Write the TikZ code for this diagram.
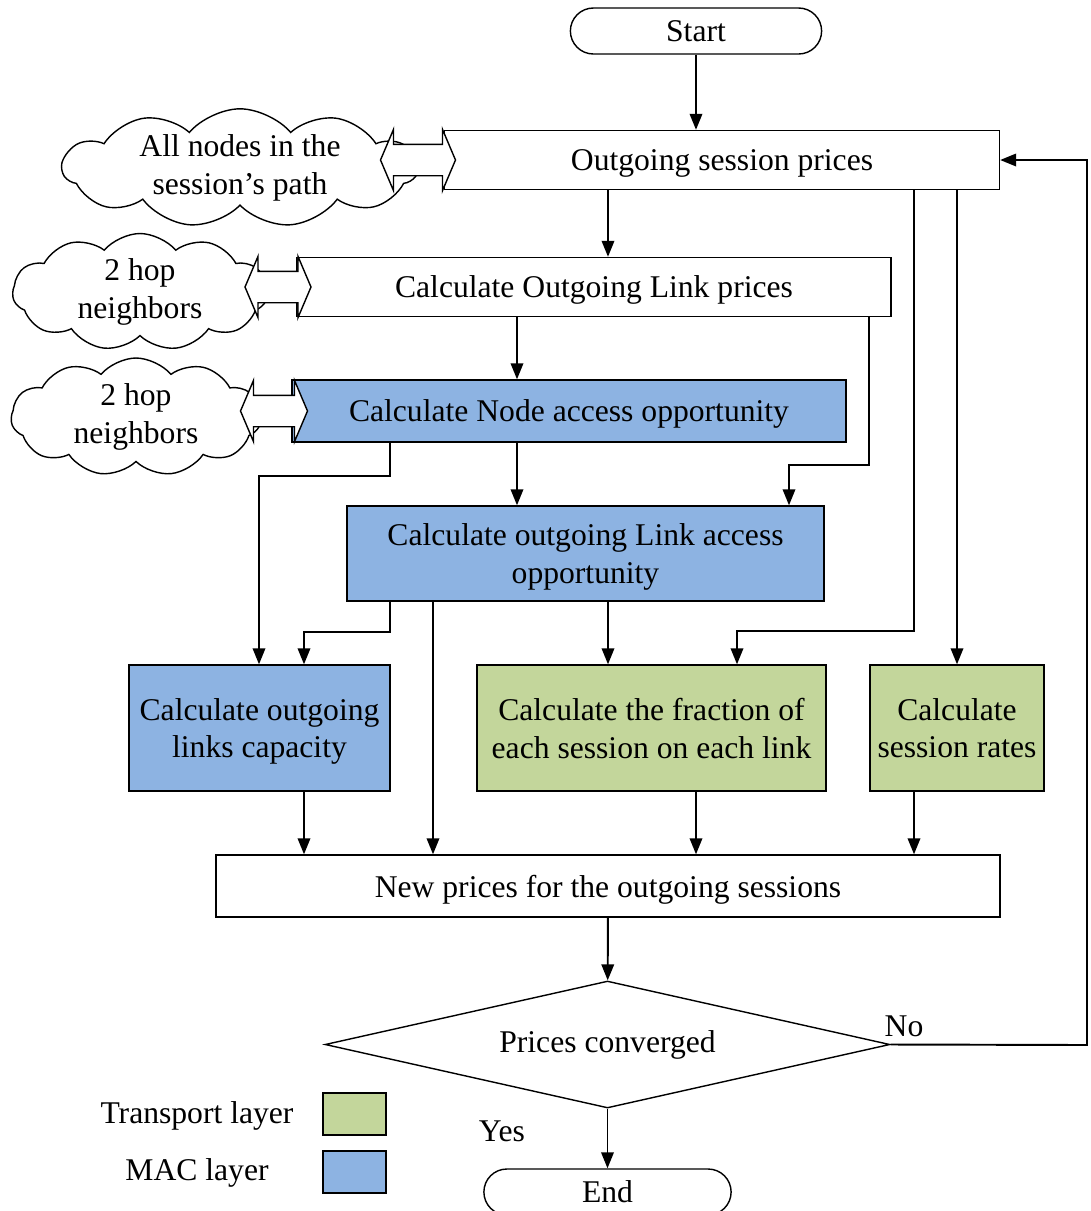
\documentclass[tikz,border=0pt]{standalone}
\usepackage{fontspec}
\setmainfont{Liberation Serif}
\definecolor{maclayer}{HTML}{8DB3E2}
\definecolor{translayer}{HTML}{C3D69B}
\usetikzlibrary{shapes.geometric,shapes.misc,shapes.symbols,shapes.arrows,arrows.meta}

\begin{document}
\begin{tikzpicture}[
  x=0.02cm,y=-0.02cm,
  font=\fontsize{18}{21.5}\selectfont,
  box/.style={draw,line width=0.8pt,align=center,inner sep=2pt,text depth=0pt},
  macbox/.style={box,fill=maclayer},
  tpbox/.style={box,fill=translayer},
  term/.style={draw,line width=0.8pt,rounded rectangle,minimum width=5.26cm,minimum height=0.92cm},
  puff/.style={draw,line width=0.8pt,cloud,cloud puffs=11,cloud puff arc=100,align=center,inner xsep=-2pt,inner ysep=-4pt},
  link/.style={draw,line width=0.8pt,fill=white,double arrow,double arrow tip angle=134,
               double arrow head extend=0.3cm,inner xsep=0pt,inner ysep=0.3cm,minimum width=0pt},
  arrow/.style={-{Triangle[length=3.2mm,width=2.5mm]},line width=1.1pt}
]
  \useasboundingbox (0,0) rectangle (1090,1211);

  \node[term] (start) at (696,31) {Start};
  \node[box,minimum width=11.1cm,minimum height=1.18cm] (out) at (722,160) {Outgoing session prices};
  \node[box,minimum width=11.88cm,minimum height=1.18cm] (link) at (594,287) {Calculate Outgoing Link prices};
  \node[macbox,minimum width=11.08cm,minimum height=1.24cm] (nacc) at (569,411) {Calculate Node access opportunity};
  \node[macbox,minimum width=9.54cm,minimum height=1.9cm] (lacc) at (585.5,553.5) {Calculate outgoing Link access\\opportunity};
  \node[macbox,minimum width=5.22cm,minimum height=2.52cm] (cap) at (259.5,728) {Calculate outgoing\\links capacity};
  \node[tpbox,minimum width=6.98cm,minimum height=2.52cm] (frac) at (651.5,728) {Calculate the fraction of\\each session on each link};
  \node[tpbox,minimum width=3.48cm,minimum height=2.52cm] (rate) at (957,728) {Calculate\\session rates};
  \node[box,minimum width=15.68cm,minimum height=1.24cm] (newp) at (608,886) {New prices for the outgoing sessions};
  \node[draw,diamond,aspect=4.45,line width=0.8pt,minimum width=11.3cm,minimum height=2.54cm,inner sep=0pt] (conv) at (607.5,1044.5) {Prices converged};
  \node[term,minimum width=5.18cm] (stop) at (607.5,1192) {End};

  \node[puff,aspect=3.2,minimum width=7.1cm,minimum height=2.28cm] (path) at (240,168) {All nodes in the\\session’s path};
  \node[puff,aspect=2.2,minimum width=5.1cm,minimum height=2.34cm] (hop1) at (140,292) {2 hop\\neighbors};
  \node[puff,aspect=2.2,minimum width=5cm,minimum height=2.36cm] (hop2) at (136,417) {2 hop\\neighbors};
  \node[link,minimum height=1.5cm] (ex1) at (418,160) {};
  \node[link,minimum height=1.32cm] (ex2) at (278,287) {};
  \node[link,minimum height=1.34cm] (ex3) at (274,411) {};

  \node[box,fill=translayer,minimum width=1.26cm,minimum height=0.84cm] (tpkey) at (354.5,1114) {};
  \node[box,fill=maclayer,minimum width=1.26cm,minimum height=0.84cm] (mackey) at (354.5,1172) {};
  \node (tptext) at (197,1116) {Transport layer};
  \node (mactext) at (197,1173) {MAC layer};
  \node (yes) at (502,1131) {Yes};
  \node (no) at (904,1026) {No};

  \draw[arrow] (start.south) -- (out.north -| start.south);
  \draw[arrow] (out.south -| 608,0) -- (link.north -| 608,0);
  \draw[arrow] (out.south -| 914,0) -- (914,631) -| (frac.north -| 737,0);
  \draw[arrow] (out.south -| 957,0) -- (rate.north -| 957,0);
  \draw[arrow] (link.south -| 517,0) -- (nacc.north -| 517,0);
  \draw[arrow] (link.south -| 869,0) -- (869,465) -| (lacc.north -| 789,0);
  \draw[arrow] (nacc.south -| 517,0) -- (lacc.north -| 517,0);
  \draw[arrow] (nacc.south -| 390,0) -- (390,476) -| (cap.north -| 259,0);
  \draw[arrow] (lacc.south -| 390,0) -- (390,632) -| (cap.north -| 304,0);
  \draw[arrow] (lacc.south -| 433,0) -- (newp.north -| 433,0);
  \draw[arrow] (lacc.south -| 608,0) -- (frac.north -| 608,0);
  \draw[arrow] (cap.south -| 304,0) -- (newp.north -| 304,0);
  \draw[arrow] (frac.south -| 696,0) -- (newp.north -| 696,0);
  \draw[arrow] (rate.south -| 914,0) -- (newp.north -| 914,0);
  \draw[arrow] (newp) -- (conv);
  \draw[arrow] (conv.south) -- (stop.north -| conv.south);
  \draw[arrow] (conv.east) -- (1087,1045) |- (out.east);
\end{tikzpicture}
\end{document}
